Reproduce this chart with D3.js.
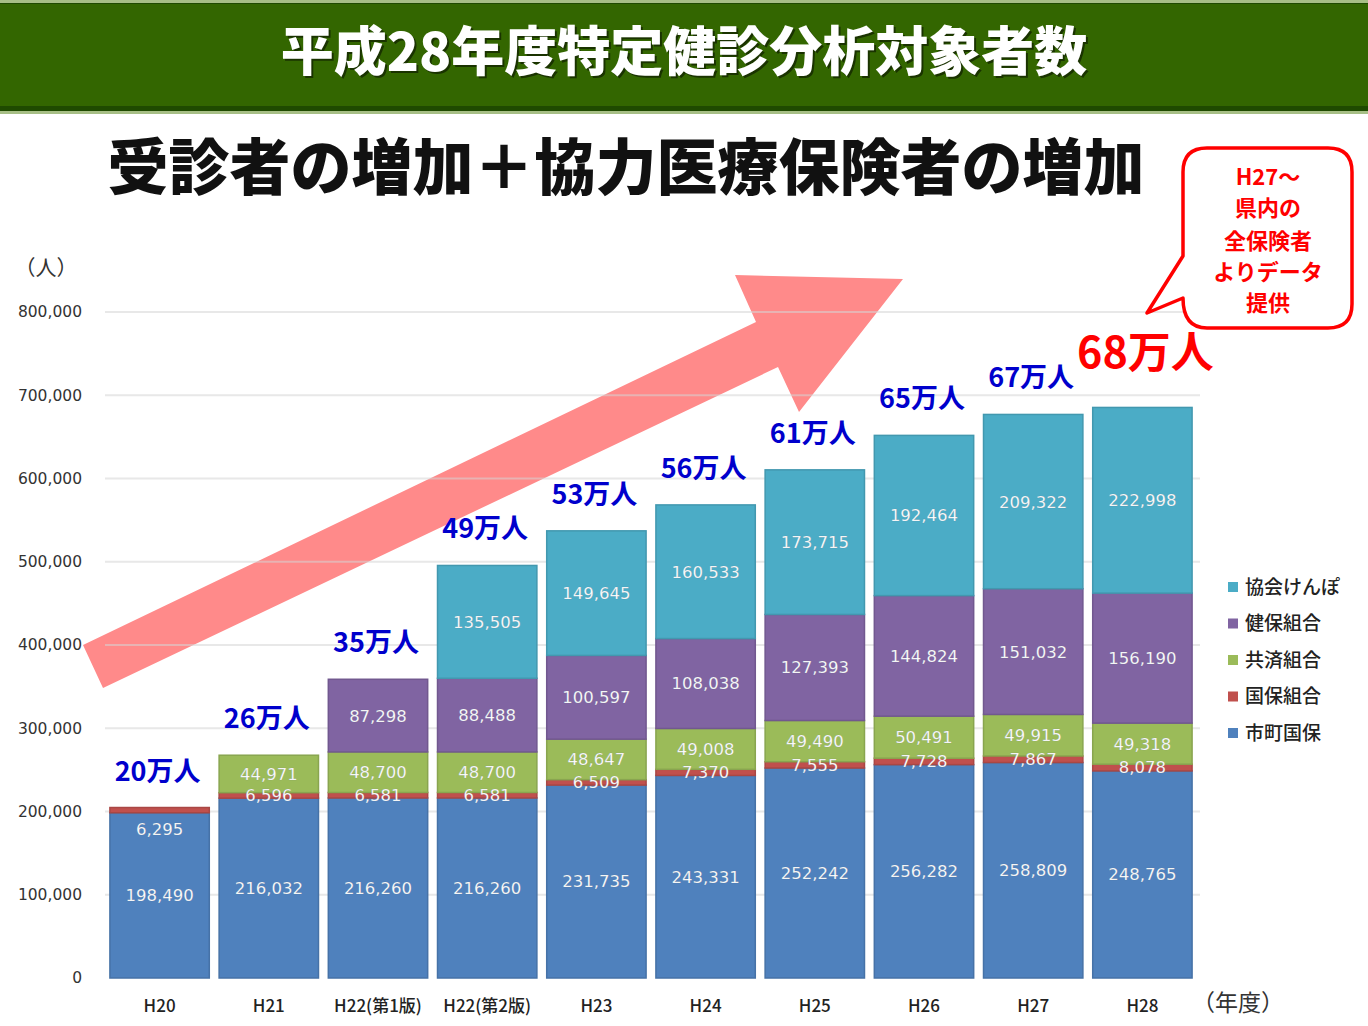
<!DOCTYPE html>
<html><head><meta charset="utf-8">
<script src="https://cdn.jsdelivr.net/npm/d3@7"></script>
<style>
html,body{margin:0;padding:0;background:#fff;}
svg{display:block;}
</style></head>
<body>
<svg id="chart" width="1368" height="1026"></svg>
<script>
// ---- data ----
const categories = ["H20","H21","H22(第1版)","H22(第2版)","H23","H24","H25","H26","H27","H28"];
const seriesNames = ["市町国保","国保組合","共済組合","健保組合","協会けんぽ"];
const shichosonKokuho = [198490,216032,216260,216260,231735,243331,252242,256282,258809,248765];
const kokuhoKumiai   = [6295,6596,6581,6581,6509,7370,7555,7728,7867,8078];
const kyosaiKumiai   = [0,44971,48700,48700,48647,49008,49490,50491,49915,49318];
const kenpoKumiai    = [0,0,87298,88488,100597,108038,127393,144824,151032,156190];
const kyokaiKenpo    = [0,0,0,135505,149645,160533,173715,192464,209322,222998];
const totalLabels = ["20万人","26万人","35万人","49万人","53万人","56万人","61万人","65万人","67万人","68万人"];
const yTicks = [0,100000,200000,300000,400000,500000,600000,700000,800000];
const colors = ["#4f81bd","#c0504d","#9bbb59","#8064a2","#4bacc6"];
const calloutLines = ["H27～","県内の","全保険者","よりデータ","提供"];

const seriesValues = [shichosonKokuho,kokuhoKumiai,kyosaiKumiai,kenpoKumiai,kyokaiKenpo];
const rows = categories.map((c,i)=>{
  const r = {cat:c};
  seriesNames.forEach((s,j)=>r[s]=seriesValues[j][i]);
  return r;
});

const svg = d3.select("#chart");
const JP = "'Noto Sans CJK JP','Noto Sans',sans-serif";
const NUM = "'DejaVu Sans',Verdana,sans-serif";

// ---- title bar ----
svg.append("rect").attr("x",0).attr("y",0).attr("width",1368).attr("height",114).attr("fill","#a7bf86");
svg.append("rect").attr("x",0).attr("y",3).attr("width",1368).attr("height",108).attr("fill","#1f4a00");
svg.append("rect").attr("x",0).attr("y",4).attr("width",1368).attr("height",102).attr("fill","#336600");
svg.append("text").attr("x",686).attr("y",73).attr("text-anchor","middle")
  .attr("font-family",JP).attr("font-weight",900).attr("font-size",53).attr("fill","#1a3300")
  .text("平成28年度特定健診分析対象者数");
svg.append("text").attr("x",684).attr("y",71).attr("text-anchor","middle")
  .attr("font-family",JP).attr("font-weight",900).attr("font-size",53).attr("fill","#ffffff")
  .text("平成28年度特定健診分析対象者数");

// ---- subtitle ----
svg.append("text").attr("x",626).attr("y",190).attr("text-anchor","middle")
  .attr("font-family",JP).attr("font-weight",900).attr("font-size",61).attr("fill","#111")
  .text("受診者の増加＋協力医療保険者の増加");

// ---- scales ----
const x = d3.scaleBand().domain(categories).range([105,1197]).paddingInner(0.09).paddingOuter(0.045);
const y = d3.scaleLinear().domain([0,800000]).range([978,312]);

// ---- arrow (behind gridlines & bars) ----
const arrowPts = [[83,645],[756,322],[735,275],[903,279],[799,412],[778,367],[103,688]];
svg.append("path").attr("d","M"+arrowPts.map(p=>p.join(",")).join("L")+"Z")
  .attr("fill","#ff8a8a");

// ---- grid ----
svg.append("g").selectAll("line").data(yTicks.filter(t=>t>0)).join("line")
  .attr("x1",105).attr("x2",1200).attr("y1",d=>y(d)).attr("y2",d=>y(d))
  .attr("stroke","#d6d6d6").attr("stroke-opacity",0.55).attr("stroke-width",2);

// ---- y axis labels ----
const yAxis = d3.axisLeft(y).tickValues(yTicks).tickFormat(d3.format(",")).tickSize(0).tickPadding(0);
const ga = svg.append("g").attr("transform","translate(82,0)").call(yAxis);
ga.select(".domain").remove();
ga.selectAll("text").attr("font-family",NUM).attr("font-size",15.5).attr("fill","#333");
svg.append("text").attr("x",46).attr("y",275).attr("text-anchor","middle")
  .attr("font-family",JP).attr("font-size",21).attr("fill","#333").text("（人）");

// ---- stacked bars ----
const stack = d3.stack().keys(seriesNames)(rows);
const gs = svg.append("g").selectAll("g").data(stack).join("g")
  .attr("fill",(d,i)=>colors[i]).attr("stroke",(d,i)=>d3.color(colors[i]).darker(0.35));
gs.selectAll("rect").data(d=>d.filter(s=>s[1]-s[0]>0)).join("rect")
  .attr("x",d=>x(d.data.cat)).attr("width",x.bandwidth())
  .attr("y",d=>y(d[1])).attr("height",d=>y(d[0])-y(d[1]))
  .attr("stroke-width",1.5);

// ---- value labels ----
const labels = [];
stack.forEach((layer,si)=>{
  layer.forEach((s,ci)=>{
    const v = s[1]-s[0];
    if(v<=0) return;
    let cy = (y(s[0])+y(s[1]))/2;
    // a thin top segment with nothing stacked above: label drawn inside the bar below it
    const isTop = stack.slice(si+1).every(l=>l[ci][1]-l[ci][0]<=0);
    if(si===1 && isTop) cy = y(s[0]) + 16;
    labels.push({x:x(s.data.cat)+x.bandwidth()/2, y:cy, t:d3.format(",")(v)});
  });
});
svg.append("g").selectAll("text").data(labels).join("text")
  .attr("x",d=>d.x).attr("y",d=>d.y).attr("dy","0.36em").attr("text-anchor","middle")
  .attr("font-family",NUM).attr("font-size",16.5).attr("fill","#ffffff")
  .attr("stroke","#5a6a7a").attr("stroke-opacity",0.25).attr("stroke-width",0.6)
  .text(d=>d.t);

// ---- totals ----
const totals = rows.map(r=>seriesNames.reduce((a,s)=>a+r[s],0));
const last = totalLabels.length-1;
svg.append("g").selectAll("text").data(totalLabels).join("text")
  .attr("x",(d,i)=> i===last ? x(categories[i])+x.bandwidth()/2 + 3 : x(categories[i])+x.bandwidth()/2 - 2)
  .attr("y",(d,i)=> i===last ? y(totals[i]) - 39 : y(totals[i]) - 27)
  .attr("text-anchor","middle").attr("font-family",JP).attr("font-weight",700)
  .attr("font-size",(d,i)=> i===last ? 43 : 27)
  .attr("fill",(d,i)=> i===last ? "#ff0000" : "#0000cc")
  .text(d=>d);

// ---- x labels ----
svg.append("g").selectAll("text").data(categories).join("text")
  .attr("x",d=>x(d)+x.bandwidth()/2).attr("y",1012).attr("text-anchor","middle")
  .attr("font-family",JP).attr("font-weight",500).attr("font-size",17).attr("fill","#222")
  .text(d=>d);
svg.append("text").attr("x",1238).attr("y",1011).attr("text-anchor","middle")
  .attr("font-family",JP).attr("font-size",23).attr("fill","#333").text("（年度）");

// ---- legend ----
const legendItems = seriesNames.map((s,i)=>({s,c:colors[i]})).reverse();
const lg = svg.append("g").selectAll("g").data(legendItems).join("g")
  .attr("transform",(d,i)=>`translate(1228,${587+i*36.5})`);
lg.append("rect").attr("x",0).attr("y",-5).attr("width",10).attr("height",10).attr("fill",d=>d.c);
lg.append("text").attr("x",17).attr("y",0).attr("dy","0.36em")
  .attr("font-family",JP).attr("font-weight",500).attr("font-size",19).attr("fill","#222").text(d=>d.s);

// ---- callout ----
const r = 24;
const cpath = `M${1183+r},148 H${1352-r} Q1352,148 1352,${148+r} V${328-r} Q1352,328 ${1352-r},328 H${1183+r} Q1183,328 1183,298 L1147,313 L1183,256 V${148+r} Q1183,148 ${1183+r},148 Z`;
svg.append("path").attr("d",cpath).attr("fill","#fff").attr("stroke","#ff0000").attr("stroke-width",3.5)
  .attr("stroke-linejoin","round");
svg.append("g").selectAll("text").data(calloutLines).join("text")
  .attr("x",1268).attr("y",(d,i)=>[185,216,249,280,311][i]).attr("text-anchor","middle")
  .attr("font-family",JP).attr("font-weight",700).attr("font-size",22).attr("fill","#ff0000")
  .text(d=>d);
</script>
</body></html>
